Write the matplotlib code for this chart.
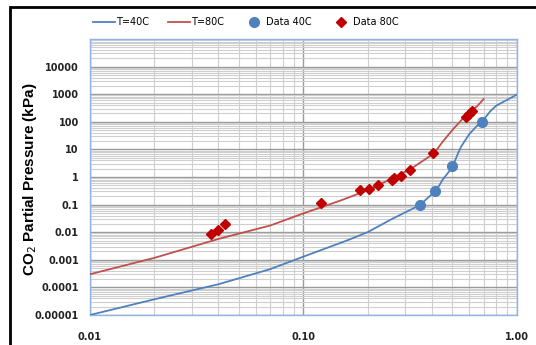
import numpy as np
import matplotlib
matplotlib.use('Agg')
from matplotlib import pyplot as plt
from matplotlib.patches import Rectangle
from matplotlib.ticker import FixedLocator, LogLocator, NullFormatter

# model curves
x40 = [0.01, 0.02, 0.04, 0.07, 0.1, 0.16, 0.2, 0.26, 0.35, 0.42, 0.45, 0.5, 0.53, 0.55,
       0.6, 0.65, 0.686, 0.75, 0.8, 0.9, 1.0]
y40 = [1e-5, 3.7e-5, 1.3e-4, 4.6e-4, 1.3e-3, 5e-3, 0.01, 0.03, 0.094, 0.33, 0.8, 2.3, 7.0, 13,
       36, 70, 97, 236, 380, 620, 960]
x80 = [0.01, 0.02, 0.04, 0.07, 0.1, 0.15, 0.2, 0.25, 0.32, 0.41, 0.45, 0.5, 0.58, 0.65, 0.7]
y80 = [3e-4, 1.17e-3, 5.7e-3, 0.0175, 0.048, 0.142, 0.33, 0.76, 2.0, 7.2, 19, 51, 178, 358, 665]

# measured data
xd40 = [0.354, 0.415, 0.50, 0.686]
yd40 = [0.094, 0.30, 2.47, 96]
xd80 = [0.037, 0.040, 0.043, 0.121, 0.184, 0.203, 0.223, 0.26, 0.265, 0.287, 0.316, 0.405, 0.58, 0.60, 0.62]
yd80 = [0.0087, 0.0122, 0.0195, 0.11, 0.33, 0.38, 0.53, 0.75, 0.95, 1.1, 1.77, 7.2, 150, 190, 240]

xticks = [0.01, 0.1, 1.0]
xlabels = ['0.01', '0.10', '1.00']
yticks = [1e-5, 1e-4, 1e-3, 1e-2, 0.1, 1, 10, 100, 1000, 10000, 100000]
ylabels = ['0.00001', '0.0001', '0.001', '0.01', '0.1', '1', '10', '100', '1000', '10000', '']

fig = plt.figure(figsize=(5.36, 3.45), dpi=100)
ax = fig.add_axes([90/536, 1 - 315/345, (516.7 - 90)/536, (315 - 39)/345])

ax.plot(x40, y40, color='#4F81BD', lw=1.3, label='T=40C', zorder=3)
ax.plot(x80, y80, color='#C0504D', lw=1.3, label='T=80C', zorder=3)
ax.plot(xd40, yd40, 'o', color='#4F81BD', ms=7, ls='none', label='Data 40C', zorder=4)
ax.plot(xd80, yd80, 'D', color='#C00000', ms=5, ls='none', label='Data 80C', zorder=4)

ax.set_xscale('log')
ax.set_yscale('log')
ax.set_xlim(0.01, 1.0)
ax.set_ylim(1e-5, 1e5)

ax.xaxis.set_major_locator(FixedLocator(xticks))
ax.set_xticklabels(xlabels)
ax.yaxis.set_major_locator(FixedLocator(yticks))
ax.set_yticklabels(ylabels)
ax.xaxis.set_minor_locator(LogLocator(base=10, subs=np.arange(2, 10), numticks=20))
ax.yaxis.set_minor_locator(LogLocator(base=10, subs=np.arange(2, 10), numticks=20))
ax.xaxis.set_minor_formatter(NullFormatter())
ax.yaxis.set_minor_formatter(NullFormatter())

ax.grid(True, which='major', color='#9a9a9a', lw=1.0, zorder=0)
ax.grid(True, which='minor', color='#cfcfcf', lw=0.8, zorder=0)
ax.tick_params(which='both', length=0)
ax.tick_params(axis='x', pad=12)
ax.tick_params(axis='y', pad=8)
for lab in ax.get_xticklabels() + ax.get_yticklabels():
    lab.set_fontweight('bold')
    lab.set_fontsize(7)
    lab.set_color('#222222')

for s in ax.spines.values():
    s.set_color('#8EB4E3')
    s.set_linewidth(1.0)

ax.set_ylabel('CO$_2$ Partial Pressure (kPa)', fontsize=11, fontweight='bold',
              family='Liberation Sans')
ax.yaxis.set_label_coords(-0.12, 0.49)

fig.legend(loc='center', bbox_to_anchor=(246/536, 1 - 22/345), ncol=4, frameon=False,
           fontsize=7, handlelength=2.3, columnspacing=1.9, handletextpad=0.1)

# outer chart border
fig.patches.append(Rectangle((10/536, -0.05), 1.0, 1 - 7/345 + 0.05, transform=fig.transFigure,
                             fill=False, ec='black', lw=2.0))

fig.savefig('out.png', dpi=100)
